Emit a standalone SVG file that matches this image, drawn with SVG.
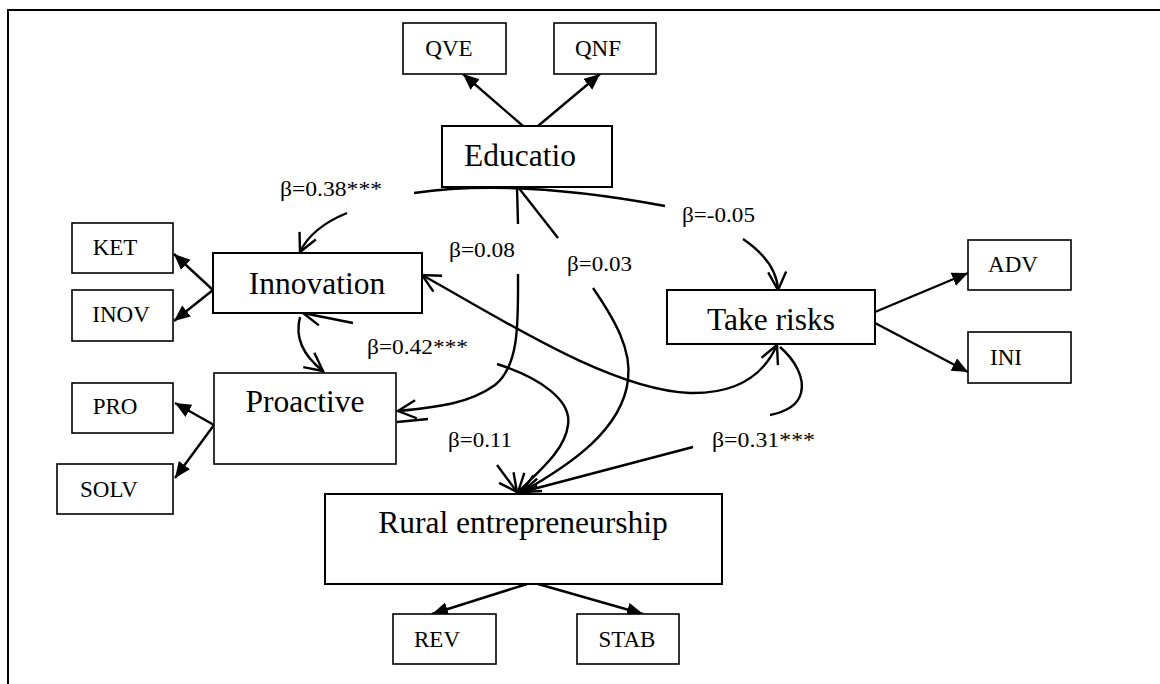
<svg xmlns="http://www.w3.org/2000/svg" width="1160" height="684" viewBox="0 0 1160 684">
  <defs>
    <style>
      .frame { stroke: #000; stroke-width: 2; fill: none; }
      .box { fill: #fff; stroke: #000; stroke-width: 2; }
      .sbox { fill: #fff; stroke: #000; stroke-width: 1.6; }
      .big { font-family: "Liberation Serif", "Times New Roman", serif; font-size: 31.5px; fill: #000; text-anchor: middle; }
      .small { font-family: "Liberation Serif", "Times New Roman", serif; font-size: 23px; fill: #000; text-anchor: middle; }
      .beta { font-family: "Liberation Serif", "Times New Roman", serif; font-size: 22px; fill: #000; }
      .line { stroke: #000; stroke-width: 2.4; fill: none; }
      .curve { stroke: #000; stroke-width: 2.4; fill: none; }
    </style>
    <marker id="solid" markerUnits="userSpaceOnUse" markerWidth="18" markerHeight="16" refX="16" refY="7" orient="auto">
      <path d="M0,0 L16,7 L0,14 z" fill="#000"/>
    </marker>
    <marker id="open" markerUnits="userSpaceOnUse" markerWidth="22" markerHeight="22" refX="19" refY="10" orient="auto-start-reverse" overflow="visible">
      <path d="M1,1 L19,10 L1,19" fill="none" stroke="#000" stroke-width="2.4"/>
    </marker>
  </defs>

  <rect width="1160" height="684" fill="#fff"/>

  <!-- page frame -->
  <path class="frame" d="M7,10 H1160 M8,10 V684"/>

  <!-- connectors -->
  <g id="connectors">
    <!-- indicator arrows -->
    <line class="line" x1="523" y1="126" x2="463" y2="74" marker-end="url(#solid)"/>
    <line class="line" x1="538" y1="126" x2="600" y2="74" marker-end="url(#solid)"/>
    <line class="line" x1="213" y1="290" x2="174" y2="254" marker-end="url(#solid)"/>
    <line class="line" x1="213" y1="290" x2="174" y2="321" marker-end="url(#solid)"/>
    <line class="line" x1="214" y1="425" x2="175" y2="403" marker-end="url(#solid)"/>
    <line class="line" x1="214" y1="425" x2="175" y2="478" marker-end="url(#solid)"/>
    <line class="line" x1="875" y1="312" x2="968" y2="273" marker-end="url(#solid)"/>
    <line class="line" x1="875" y1="323" x2="968" y2="372" marker-end="url(#solid)"/>
    <line class="line" x1="527" y1="584" x2="432" y2="614" marker-end="url(#solid)"/>
    <line class="line" x1="538" y1="584" x2="643" y2="614" marker-end="url(#solid)"/>

    <!-- Education arc to Innovation and Take risks -->
    <path class="curve" d="M414,193 Q515,178 665,206"/>
    <path class="curve" d="M347,213 C325,222 308,235 300,252" marker-end="url(#open)"/>
    <path class="curve" d="M743,239 C762,252 777,268 778,290" marker-end="url(#open)"/>

    <!-- Education to Proactive -->
    <path class="curve" d="M517,187 L518,224"/>
    <path class="curve" d="M518,274 C518,320 520,365 495,385 C470,403 440,407 398,411" marker-end="url(#open)"/>

    <!-- Education to Rural entrepreneurship -->
    <path class="curve" d="M518,187 L558,238"/>
    <path class="curve" d="M593,288 C615,320 632,350 628,380 C622,430 570,465 522,492" marker-end="url(#open)"/>

    <!-- Innovation / Proactive -->
    <path class="curve" d="M353,323 L303,313" marker-end="url(#open)"/>
    <path class="curve" d="M300,317 C294,340 305,357 323,371" marker-end="url(#open)"/>
    <path class="curve" d="M497,364 C540,378 572,400 568,425 C565,450 540,470 518,492" marker-end="url(#open)"/>

    <!-- Innovation / Take risks -->
    <path class="curve" d="M690,393 C610,390 500,318 422,275" marker-end="url(#open)"/>
    <path class="curve" d="M690,393 C740,394 765,372 777,345" marker-end="url(#open)"/>

    <!-- Proactive to Rural entrepreneurship -->
    <path class="curve" d="M397,422 L428,419"/>
    <path class="curve" d="M497,465 L517,492" marker-end="url(#open)"/>

    <!-- Take risks to Rural entrepreneurship -->
    <path class="curve" d="M780,347 C795,360 805,378 801,393 C798,405 785,412 770,415"/>
    <path class="curve" d="M693,447 L522,492" marker-end="url(#open)"/>
  </g>

  <!-- coefficient labels -->
  <g id="labels">
    <text class="beta" x="280" y="196" textLength="102" lengthAdjust="spacingAndGlyphs">β=0.38***</text>
    <text class="beta" x="682" y="222" textLength="73" lengthAdjust="spacingAndGlyphs">β=-0.05</text>
    <text class="beta" x="449" y="257" textLength="66" lengthAdjust="spacingAndGlyphs">β=0.08</text>
    <text class="beta" x="567" y="271" textLength="65" lengthAdjust="spacingAndGlyphs">β=0.03</text>
    <text class="beta" x="367" y="354" textLength="101" lengthAdjust="spacingAndGlyphs">β=0.42***</text>
    <text class="beta" x="448" y="447" textLength="64" lengthAdjust="spacingAndGlyphs">β=0.11</text>
    <text class="beta" x="712" y="447" textLength="103" lengthAdjust="spacingAndGlyphs">β=0.31***</text>
  </g>

  <!-- nodes -->
  <g id="node-qve"><rect class="sbox" x="403" y="23" width="103" height="51"/><text class="small" x="449" y="56">QVE</text></g>
  <g id="node-qnf"><rect class="sbox" x="554" y="23" width="102" height="51"/><text class="small" x="598" y="56">QNF</text></g>
  <g id="node-education"><rect class="box" x="442" y="126" width="170" height="61"/><text class="big" x="520" y="166">Educatio</text></g>
  <g id="node-ket"><rect class="sbox" x="72" y="223" width="101" height="50"/><text class="small" x="115" y="255">KET</text></g>
  <g id="node-inov"><rect class="sbox" x="72" y="290" width="101" height="51"/><text class="small" x="121" y="322">INOV</text></g>
  <g id="node-innovation"><rect class="box" x="213" y="253" width="209" height="60"/><text class="big" x="317" y="294">Innovation</text></g>
  <g id="node-pro"><rect class="sbox" x="72" y="383" width="101" height="50"/><text class="small" x="115" y="414">PRO</text></g>
  <g id="node-solv"><rect class="sbox" x="57" y="464" width="116" height="50"/><text class="small" x="109" y="497">SOLV</text></g>
  <g id="node-proactive"><rect class="sbox" x="214" y="373" width="182" height="91"/><text class="big" x="305" y="412">Proactive</text></g>
  <g id="node-takerisks"><rect class="box" x="667" y="290" width="208" height="54"/><text class="big" x="771" y="330">Take risks</text></g>
  <g id="node-adv"><rect class="sbox" x="968" y="240" width="103" height="50"/><text class="small" x="1013" y="272">ADV</text></g>
  <g id="node-ini"><rect class="sbox" x="968" y="332" width="103" height="51"/><text class="small" x="1006" y="365">INI</text></g>
  <g id="node-rural"><rect class="box" x="325" y="494" width="397" height="90"/><text class="big" x="523" y="533">Rural entrepreneurship</text></g>
  <g id="node-rev"><rect class="sbox" x="393" y="614" width="103" height="50"/><text class="small" x="437" y="647">REV</text></g>
  <g id="node-stab"><rect class="sbox" x="577" y="614" width="102" height="50"/><text class="small" x="627" y="647">STAB</text></g>
</svg>
